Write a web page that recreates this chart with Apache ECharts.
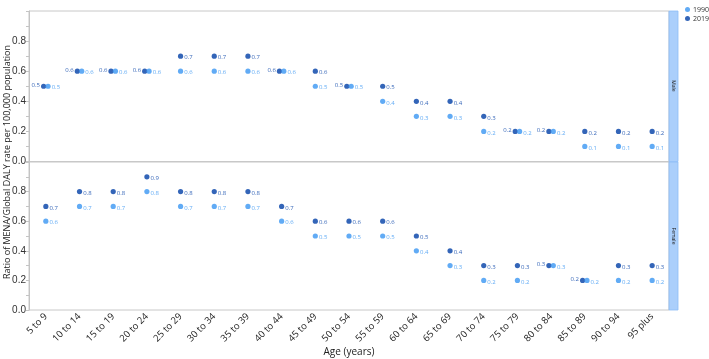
<!DOCTYPE html>
<html><head><meta charset="utf-8">
<script src="https://cdn.jsdelivr.net/npm/echarts@6/dist/echarts.min.js"></script>
<style>html,body{margin:0;padding:0;background:#fff}#c{width:709px;height:359px}</style>
</head><body><div id="c"></div>
<script>
var categories = ['5 to 9','10 to 14','15 to 19','20 to 24','25 to 29','30 to 34','35 to 39','40 to 44','45 to 49','50 to 54','55 to 59','60 to 64','65 to 69','70 to 74','75 to 79','80 to 84','85 to 89','90 to 94','95 plus'];
var male1990   = [0.5,0.6,0.6,0.6,0.6,0.6,0.6,0.6,0.5,0.5,0.4,0.3,0.3,0.2,0.2,0.2,0.1,0.1,0.1];
var male2019   = [0.5,0.6,0.6,0.6,0.7,0.7,0.7,0.6,0.6,0.5,0.5,0.4,0.4,0.3,0.2,0.2,0.2,0.2,0.2];
var female1990 = [0.6,0.7,0.7,0.8,0.7,0.7,0.7,0.6,0.5,0.5,0.5,0.4,0.3,0.2,0.2,0.3,0.2,0.2,0.2];
var female2019 = [0.7,0.8,0.8,0.9,0.8,0.8,0.8,0.7,0.6,0.6,0.6,0.5,0.4,0.3,0.3,0.3,0.2,0.3,0.3];
var yTicks = [0, 0.2, 0.4, 0.6, 0.8];

var C1990 = '#3a96f3', C2019 = '#003fa6';
var FONT = '"Open Sans", sans-serif';

function build(vals, other, isDark) {
  return vals.map(function (v, i) {
    var item = { value: [i, v] };
    if (v === other[i]) {
      item.symbolOffset = [isDark ? -2.2 : 2.2, 0];
      if (isDark) item.label = { position: 'left', offset: [0, -1] };
    }
    return item;
  });
}
function series(name, vals, other, isDark, idx) {
  var col = isDark ? C2019 : C1990;
  return {
    name: name, type: 'scatter', xAxisIndex: idx, yAxisIndex: idx,
    symbolSize: 5.2, itemStyle: { color: col },
    label: { show: true, position: 'right', distance: 1, offset: [0, 1.5], fontSize: 6, color: col, fontFamily: FONT,
             formatter: function (p) { return p.value[1].toFixed(1); } },
    data: build(vals, other, isDark)
  };
}
function xAx(idx, showLabels) {
  return {
    type: 'category', gridIndex: idx, data: categories, boundaryGap: true,
    axisLine: { show: false }, axisTick: { show: false }, splitLine: { show: false },
    axisLabel: { show: showLabels, rotate: 45, fontSize: 9.5, color: '#222', fontFamily: FONT, margin: 5, interval: 0 }
  };
}
function yAx(idx) {
  return {
    type: 'value', gridIndex: idx, min: 0, max: 1, interval: 0.2,
    axisLine: { show: true, lineStyle: { color: '#c4c4c4' } },
    axisTick: { show: true, length: 3, lineStyle: { color: '#c4c4c4' } },
    minorTick: { show: true, splitNumber: 2, length: 3, lineStyle: { color: '#c4c4c4' } },
    splitLine: { show: false },
    axisLabel: { fontSize: 10, color: '#333', fontFamily: '"Liberation Sans", Arial, sans-serif', margin: 3,
      formatter: function (v) { return yTicks.indexOf(Math.round(v * 10) / 10) >= 0 ? v.toFixed(1) : ''; } }
  };
}
var chart = echarts.init(document.getElementById('c'), null, { renderer: 'canvas' });
chart.setOption({
  backgroundColor: '#fff',
  animation: false,
  legend: {
    data: ['1990', '2019'], orient: 'vertical', left: 680, top: 1, itemWidth: 5, itemHeight: 5, itemGap: 2,
    icon: 'circle', textStyle: { fontSize: 7, color: '#333', fontFamily: FONT, padding: [0, 0, 0, -2] }
  },
  grid: [
    { left: 29, top: 11, width: 640, height: 150.5, show: true, borderColor: '#c8c8c8', borderWidth: 1 },
    { left: 29, top: 162, width: 640, height: 148, show: true, borderColor: '#c8c8c8', borderWidth: 1 }
  ],
  xAxis: [xAx(0, false), xAx(1, true)],
  yAxis: [yAx(0), yAx(1)],
  series: [
    series('2019', male2019, male1990, true, 0),
    series('1990', male1990, male2019, false, 0),
    series('2019', female2019, female1990, true, 1),
    series('1990', female1990, female2019, false, 1)
  ],
  graphic: [
    { type: 'rect', shape: { x: 669, y: 11, width: 9, height: 150.5 }, style: { fill: '#abcffb', stroke: '#8dbdf6', lineWidth: 0.8 } },
    { type: 'rect', shape: { x: 669, y: 162, width: 9, height: 148 }, style: { fill: '#abcffb', stroke: '#8dbdf6', lineWidth: 0.8 } },
    { type: 'text', x: 673.5, y: 86, rotation: -Math.PI / 2, style: { text: 'Male', fontSize: 5, fill: '#222', fontFamily: FONT, align: 'center', verticalAlign: 'middle' } },
    { type: 'text', x: 673.5, y: 236, rotation: -Math.PI / 2, style: { text: 'Female', fontSize: 5, fill: '#222', fontFamily: FONT, align: 'center', verticalAlign: 'middle' } },
    { type: 'text', x: 7, y: 162, rotation: Math.PI / 2, style: { text: 'Ratio of MENA/Global DALY rate per 100,000 population', fontSize: 9, fill: '#222', fontFamily: FONT, align: 'center', verticalAlign: 'middle' } },
    { type: 'text', x: 349, y: 352, style: { text: 'Age (years)', fontSize: 10, fill: '#222', fontFamily: FONT, align: 'center', verticalAlign: 'middle' } }
  ]
});
</script></body></html>
